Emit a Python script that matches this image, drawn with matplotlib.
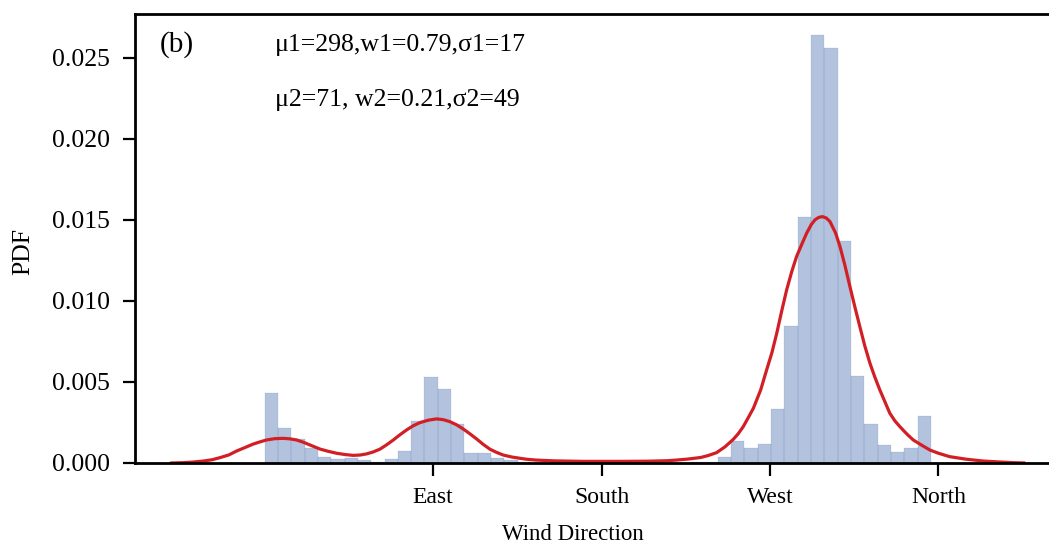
import numpy as np
import matplotlib.pyplot as plt

# ---- histogram of wind direction (50 bins from 0 to 356 deg) ----
BIN_START = 0.0
BIN_WIDTH = 7.12
hist_density = [
    0.0043, 0.00214, 0.00148, 0.0009, 0.00035, 0.00023, 0.00029, 0.00019, 0.00006, 0.00025,
    0.00076, 0.0026, 0.00533, 0.00457, 0.0024, 0.0006, 0.0006, 0.00029, 0.00019, 0.00004,
    0.0, 0.0, 0.0, 0.0, 0.0, 0.0, 0.0, 0.0, 0.0, 0.0,
    0.0, 0.0, 0.00003, 0.00008, 0.00035, 0.00135, 0.00094, 0.00117, 0.00335, 0.00846,
    0.0152, 0.0264, 0.0256, 0.01368, 0.00539, 0.00239, 0.00109, 0.00066, 0.00091, 0.0029,
]

# ---- fitted pdf curve ----
curve_deg = [
    -50, -43.4, -38, -32.7, -28, -23.8, -19, -14.9, -10.5, -6, -2.5, 1.1, 5.5, 10, 13.5,
    17.1, 20.7, 24.3, 29.6, 34, 38.5, 43, 47.4, 51, 54.5, 58, 61.6, 65.2, 68.8, 72.3,
    75.9, 79.5, 83, 87.5, 91.9, 95.5, 99, 102.5, 106.1, 109.7, 113.3, 116.8, 120.4, 124,
    127.5, 132, 136.4, 140, 145, 155, 170, 190, 205, 215, 220, 226, 233, 237, 241.5, 246,
    250.4, 253, 255.7, 258.4, 261.1, 265, 268.2, 271, 273.6, 276.3, 278.9, 281.6, 284.2,
    287, 289.6, 292, 294, 296, 298, 300, 302, 305, 307.4, 310, 312.7, 315.4, 318, 320.7,
    323.4, 326, 328.7, 331.3, 334, 336.7, 339.4, 343, 346.5, 351, 355.4, 360, 366, 375,
    384, 393, 400, 406,
]
curve_pdf = [
    0.0, 0.00002, 0.00006, 0.00012, 0.0002, 0.00033, 0.0005, 0.00074, 0.00095, 0.00117,
    0.0013, 0.00142, 0.0015, 0.00152, 0.00149, 0.00142, 0.00128, 0.00111, 0.00086, 0.00072,
    0.0006, 0.00052, 0.00047, 0.00049, 0.00056, 0.00068, 0.00085, 0.00112, 0.00142, 0.00174,
    0.00204, 0.0023, 0.00249, 0.00264, 0.00272, 0.00267, 0.00255, 0.00236, 0.0021, 0.0018,
    0.00148, 0.00115, 0.00085, 0.00065, 0.00049, 0.00037, 0.00029, 0.00023, 0.00018, 0.00013,
    0.0001, 0.0001, 0.00011, 0.00014, 0.00018, 0.00024, 0.00034, 0.00046, 0.00064, 0.001,
    0.00146, 0.0018, 0.00224, 0.0028, 0.00337, 0.0045, 0.00574, 0.0068, 0.008, 0.0094,
    0.01068, 0.0118, 0.01274, 0.0135, 0.01418, 0.0147, 0.015, 0.01515, 0.0152, 0.01512,
    0.0149, 0.0142, 0.01335, 0.0122, 0.01088, 0.0096, 0.00841, 0.0072, 0.00615, 0.0053,
    0.0045, 0.0038, 0.00307, 0.0026, 0.00224, 0.0018, 0.00142, 0.0011, 0.0008, 0.0006,
    0.00039, 0.00023, 0.00012, 0.00006, 0.00002, 0.0,
]

tick_deg = [90, 180, 270, 360]
tick_names = ['East', 'South', 'West', 'North']

plt.rcParams['font.family'] = ['Liberation Serif', 'DejaVu Serif']
plt.rcParams['font.size'] = 17

fig = plt.figure(figsize=(10.49, 5.47), dpi=100)
ax = fig.add_axes([0.1287, 0.1536, 0.8723, 0.8208])

left_edges = BIN_START + BIN_WIDTH * np.arange(len(hist_density))
ax.bar(left_edges, hist_density, width=BIN_WIDTH, align='edge',
       color='#4C72B0', alpha=0.42, edgecolor='#4C72B0', linewidth=0.25)
ax.plot(curve_deg, curve_pdf, color='#d21f26', linewidth=2.3,
        solid_joinstyle='round', solid_capstyle='round')

ax.set_xlim(-69.2, 419.6)
ax.set_ylim(0, 0.0277)
ax.set_xticks(tick_deg)
ax.set_xticklabels(tick_names)
ax.set_yticks(np.arange(0, 0.0251, 0.005))
ax.yaxis.set_major_formatter(plt.FormatStrFormatter('%.3f'))

for side in ['left', 'top', 'bottom']:
    ax.spines[side].set_linewidth(2.0)
ax.spines['right'].set_visible(False)
ax.tick_params(direction='out', length=9, width=1.6, pad=8)
ax.tick_params(axis='y', labelsize=18.5, pad=9)
ax.tick_params(axis='x', labelsize=17)

ax.set_xlabel('Wind Direction', fontsize=16.5)
ax.xaxis.set_label_coords(0.4787, -0.135)
ax.set_ylabel('PDF', fontsize=18.5)
ax.yaxis.set_label_coords(-0.11, 0.47)

ax.text(-56, 0.0258, '(b)', fontsize=21, va='center', ha='left')
ax.text(5.6, 0.0258, 'μ1=298,w1=0.79,σ1=17', fontsize=18.5, va='center', ha='left')
ax.text(5.6, 0.0224, 'μ2=71, w2=0.21,σ2=49', fontsize=18.5, va='center', ha='left')

fig.savefig('out.png', dpi=100)
